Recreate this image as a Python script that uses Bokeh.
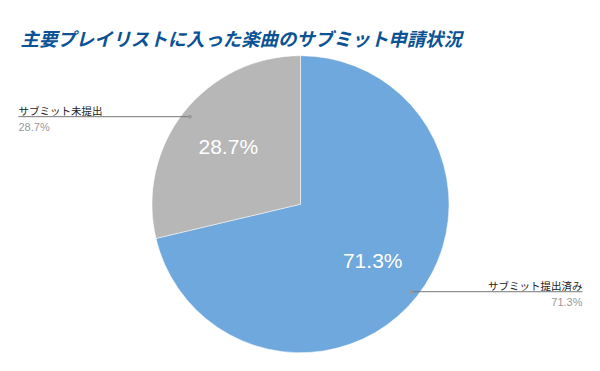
import math
from bokeh.plotting import figure
from bokeh.models import Range1d, ColumnDataSource
from bokeh.core.properties import value
from bokeh.embed import file_html
from bokeh.resources import INLINE

title_text = "主要プレイリストに入った楽曲のサブミット申請状況"
categories = ["サブミット提出済み", "サブミット未提出"]
values = [71.3, 28.7]
colors = ["#6fa8dc", "#b7b7b7"]

W, H = 584, 355
# data coordinates = screenshot pixels (x), flipped screenshot pixels (y)
PAGE_H = 371
p = figure(width=W, height=H, x_range=Range1d(0, W), y_range=Range1d(PAGE_H - H, PAGE_H),
           output_backend="svg", toolbar_location=None, min_border=0)
p.axis.visible = False
p.grid.visible = False
p.outline_line_color = None
p.background_fill_color = "white"
p.border_fill_color = "white"

cx, cy_page, R = 300.0, 203.7, 148.5
cy = PAGE_H - cy_page

total = sum(values)
starts, ends, mids = [], [], []
cum = 0.0
for v in values:
    a0 = cum / total
    cum += v
    a1 = cum / total
    starts.append(math.pi / 2 - 2 * math.pi * a1)
    ends.append(math.pi / 2 - 2 * math.pi * a0)
    mids.append(2 * math.pi * (a0 + a1) / 2)  # clockwise from top

src = ColumnDataSource(dict(start=starts, end=ends, color=colors))
p.wedge(x=cx, y=cy, radius=R, start_angle="start", end_angle="end", direction="anticlock",
        fill_color="color", line_color="white", line_width=0.5, source=src)

# inside percentage labels
ix, iy, itxt = [], [], []
for v, m in zip(values, mids):
    r = 0.62 * R
    ix.append(cx + r * math.sin(m))
    iy.append(cy + r * math.cos(m) + 1)
    itxt.append(f"{v:.1f}%")
p.text(x=ix, y=iy, text=itxt, text_color="white", text_font=value("Liberation Sans"),
       text_font_size="21px", text_align="center", text_baseline="middle")

# leader lines and outside labels
for name, v, m in zip(categories, values, mids):
    r = 0.95 * R
    dx = cx + r * math.sin(m)
    dy = cy + r * math.cos(m)
    left = math.sin(m) < 0
    ex = 18 if left else 582
    p.line(x=[dx, ex], y=[dy, dy], line_color="#777777", line_width=1)
    p.scatter(x=[dx], y=[dy], size=4, fill_color="#999999", line_color=None)
    align = "left" if left else "right"
    p.text(x=[ex], y=[dy + 6], text=[name], text_color="#222222",
           text_font=value("Noto Sans CJK JP"), text_font_size="10.5px",
           text_align=align, text_baseline="alphabetic")
    p.text(x=[ex], y=[dy - 4], text=[f"{v:.1f}%"], text_color="#999999",
           text_font=value("Liberation Sans"), text_font_size="11px",
           text_align=align, text_baseline="top")

p.text(x=[20], y=[PAGE_H - 37], text=[title_text], text_color="#0b5394",
       text_font=value("Noto Sans CJK JP"), text_font_size="18.4px",
       text_font_style="bold italic", text_align="left", text_baseline="alphabetic")

open("out.html", "w").write(file_html(p, INLINE))
